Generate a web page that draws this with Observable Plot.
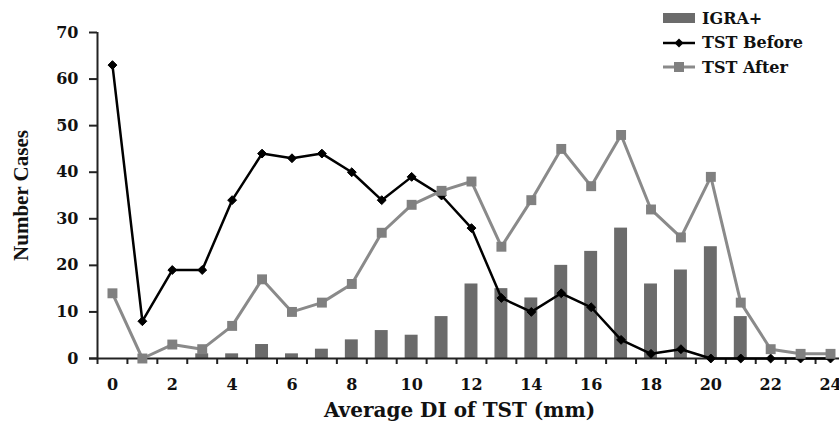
<!DOCTYPE html>
<html><head><meta charset="utf-8">
<script src="https://cdn.jsdelivr.net/npm/d3@7"></script>
<script src="https://cdn.jsdelivr.net/npm/@observablehq/plot@0.6"></script>
<style>
body{margin:0;background:#fff;}
#wrap{position:relative;width:839px;height:431px;font-family:"DejaVu Serif",serif;font-weight:bold;color:#111;}
#legend{position:absolute;left:663px;top:6px;font-size:16px;}
.row{display:flex;align-items:center;height:24.5px;white-space:nowrap;}
.row svg{margin-right:7px;}
</style></head><body>
<div id="wrap"><div id="legend"></div></div>
<script>
const mm = [0,1,2,3,4,5,6,7,8,9,10,11,12,13,14,15,16,17,18,19,20,21,22,23,24];
const igra = [0,0,0,1,1,3,1,2,4,6,5,9,16,15,13,20,23,28,16,19,24,9,0,0,0];
const before = [63,8,19,19,34,44,43,44,40,34,39,35,28,13,10,14,11,4,1,2,0,0,0,0,0];
const after = [14,0,3,2,7,17,10,12,16,27,33,36,38,24,34,45,37,48,32,26,39,12,2,1,1];
const xTickLabels = [0,2,4,6,8,10,12,14,16,18,20,22,24];
const xBoundaries = [-0.5,0.5,1.5,2.5,3.5,4.5,5.5,6.5,7.5,8.5,9.5,10.5,11.5,12.5,13.5,14.5,15.5,16.5,17.5,18.5,19.5,20.5,21.5,22.5,23.5];
const yTicks = [0,10,20,30,40,50,60,70];
const seriesNames = ["IGRA+","TST Before","TST After"];
const colors = {bar:"#6b6b6b", before:"#000000", after:"#8a8a8a", afterMarker:"#808080", axis:"#222"};

const rows = mm.map((m,i)=>({mm:m, igra:igra[i], before:before[i], after:after[i]}));

const chart = Plot.plot({
  width: 839, height: 431,
  marginLeft: 97, marginRight: 0, marginTop: 32, marginBottom: 73,
  x: {domain: [-0.5, 24.3]},
  y: {domain: [0, 70]},
  style: {fontFamily: "'DejaVu Serif', serif", fontWeight: "bold", fontSize: "16px", color: "#111", background: "white", overflow: "visible"},
  marks: [
    Plot.rectY(rows, {x1: d => d.mm - 0.5, x2: d => d.mm + 0.5, y: "igra", fill: colors.bar, insetLeft: 8.5, insetRight: 8.5}),
    Plot.ruleY([0], {stroke: colors.axis, strokeWidth: 2, insetLeft: -8}),
    Plot.ruleX([-0.5], {y1: 0, y2: 70, stroke: colors.axis, strokeWidth: 2}),
    Plot.axisY({ticks: yTicks, tickSize: 8, tickPadding: 11, label: null, stroke: colors.axis, strokeWidth: 2, fontSize: 16}),
    Plot.axisX({ticks: xBoundaries, tickSize: 6, tickFormat: () => "", label: null, stroke: colors.axis, strokeWidth: 2}),
    Plot.axisX({ticks: xTickLabels, tickSize: 0, tickPadding: 20, label: null, fontSize: 16}),
    Plot.lineY(rows, {x: "mm", y: "before", stroke: colors.before, strokeWidth: 2.5}),
    Plot.dot(rows, {x: "mm", y: "before", symbol: "diamond2", r: 4, fill: colors.before, stroke: colors.before, strokeWidth: 1}),
    Plot.lineY(rows, {x: "mm", y: "after", stroke: colors.after, strokeWidth: 3}),
    Plot.dot(rows, {x: "mm", y: "after", symbol: "square", r: 5.6, fill: colors.afterMarker}),
    Plot.text(["Average DI of TST (mm)"], {text: d => d, frameAnchor: "bottom", lineAnchor: "middle", textAnchor: "middle", dy: 52, dx: -9, fontSize: 20}),
    Plot.text(["Number Cases"], {text: d => d, frameAnchor: "left", lineAnchor: "middle", textAnchor: "middle", rotate: -90, dx: -76, fontSize: 21, fontFamily: "'Liberation Serif', serif"})
  ]
});
document.getElementById("wrap").prepend(chart);

const sw = [
  `<svg width="32" height="12"><rect x="0" y="1" width="32" height="10" fill="${colors.bar}"/></svg>`,
  `<svg width="32" height="12"><line x1="0" y1="6" x2="32" y2="6" stroke="${colors.before}" stroke-width="2.5"/><path d="M16,1.5L20.5,6L16,10.5L11.5,6Z" fill="${colors.before}"/></svg>`,
  `<svg width="32" height="12"><line x1="0" y1="6" x2="32" y2="6" stroke="${colors.after}" stroke-width="3"/><rect x="11" y="1" width="10" height="10" fill="${colors.afterMarker}"/></svg>`
];
document.getElementById("legend").innerHTML = seriesNames.map((n,i)=>`<div class="row">${sw[i]}<span>${n}</span></div>`).join("");
</script>
</body></html>
